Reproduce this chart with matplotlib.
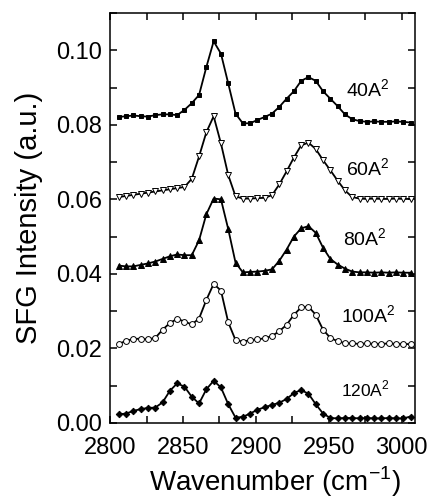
import matplotlib
matplotlib.use("Agg")
import matplotlib.pyplot as plt
from matplotlib.ticker import MultipleLocator

plt.rcParams['font.family'] = ['Liberation Sans', 'DejaVu Sans']
plt.rcParams['mathtext.fontset'] = 'custom'
plt.rcParams['mathtext.rm'] = 'Liberation Sans'

wavenumber = [2806, 2811, 2816, 2821, 2826, 2831, 2836, 2841, 2846, 2851,
              2856, 2861, 2866, 2871, 2876, 2881, 2886, 2891, 2896, 2901,
              2906, 2911, 2916, 2921, 2926, 2931, 2936, 2941, 2946, 2951,
              2956, 2961, 2966, 2971, 2976, 2981, 2986, 2991, 2996, 3001, 3006]

sfg_40 = [0.0821, 0.0823, 0.0825, 0.0823, 0.0822, 0.0826, 0.0828, 0.0828, 0.0826, 0.0840,
          0.0858, 0.0880, 0.0955, 0.1024, 0.0991, 0.0911, 0.0830, 0.0804, 0.0804, 0.0813,
          0.0821, 0.0830, 0.0848, 0.0870, 0.0890, 0.0918, 0.0928, 0.0918, 0.0890, 0.0870,
          0.0850, 0.0828, 0.0815, 0.0810, 0.0808, 0.0809, 0.0808, 0.0808, 0.0809, 0.0808, 0.0806]

sfg_60 = [0.0606, 0.0609, 0.0612, 0.0615, 0.0618, 0.0621, 0.0624, 0.0627, 0.0630, 0.0633,
          0.0655, 0.0715, 0.0780, 0.0823, 0.0750, 0.0665, 0.0608, 0.0602, 0.0602, 0.0603,
          0.0604, 0.0611, 0.0640, 0.0675, 0.0712, 0.0745, 0.0752, 0.0735, 0.0705, 0.0678,
          0.0650, 0.0624, 0.0606, 0.0602, 0.0601, 0.0602, 0.0601, 0.0601, 0.0602, 0.0601, 0.0601]

sfg_80 = [0.0422, 0.0420, 0.0420, 0.0424, 0.0428, 0.0433, 0.0440, 0.0447, 0.0452, 0.0450,
          0.0450, 0.0490, 0.0560, 0.0602, 0.0600, 0.0520, 0.0430, 0.0404, 0.0405, 0.0406,
          0.0408, 0.0412, 0.0435, 0.0465, 0.0500, 0.0522, 0.0528, 0.0510, 0.0470, 0.0440,
          0.0425, 0.0414, 0.0406, 0.0404, 0.0404, 0.0403, 0.0404, 0.0403, 0.0404, 0.0403, 0.0403]

sfg_100 = [0.0212, 0.0220, 0.0225, 0.0226, 0.0224, 0.0228, 0.0250, 0.0268, 0.0279, 0.0272,
           0.0264, 0.0280, 0.0330, 0.0373, 0.0355, 0.0270, 0.0222, 0.0218, 0.0222, 0.0224,
           0.0227, 0.0233, 0.0246, 0.0263, 0.0290, 0.0310, 0.0312, 0.0290, 0.0250, 0.0228,
           0.0219, 0.0214, 0.0213, 0.0212, 0.0213, 0.0212, 0.0212, 0.0213, 0.0212, 0.0212, 0.0211]

sfg_120 = [0.0023, 0.0025, 0.0032, 0.0037, 0.0040, 0.0041, 0.0055, 0.0086, 0.0106, 0.0097,
           0.0070, 0.0052, 0.0090, 0.0113, 0.0095, 0.0050, 0.0014, 0.0016, 0.0025, 0.0035,
           0.0042, 0.0048, 0.0054, 0.0064, 0.0080, 0.0088, 0.0078, 0.0050, 0.0025, 0.0013,
           0.0012, 0.0013, 0.0013, 0.0012, 0.0013, 0.0012, 0.0012, 0.0013, 0.0012, 0.0012, 0.0017]

labels = ['40A$^2$', '60A$^2$', '80A$^2$', '100A$^2$', '120A$^2$']

fig = plt.figure(figsize=(4.30, 5.01), dpi=100)
ax = fig.add_axes([0.256, 0.156, 0.709, 0.818])

series = [sfg_40, sfg_60, sfg_80, sfg_100, sfg_120]
styles = [dict(marker='s', mfc='black', ms=3.3),
          dict(marker='v', mfc='white', ms=4.5),
          dict(marker='^', mfc='black', ms=4.5),
          dict(marker='o', mfc='white', ms=4.2),
          dict(marker='D', mfc='black', ms=3.3)]
for ys, st in zip(series, styles):
    ax.plot(wavenumber, ys, color='black', lw=1.3, mec='black', mew=0.7, **st)

label_pos = [(2962, 0.0893, 14), (2962, 0.0683, 14), (2960, 0.0495, 14),
             (2958.5, 0.0288, 14), (2958, 0.0091, 12.5)]
for lab, (x, y, fs) in zip(labels, label_pos):
    ax.text(x, y, lab, fontsize=fs, ha='left', va='center')

ax.set_xlim(2800, 3009)
ax.set_ylim(0, 0.110)
ax.xaxis.set_major_locator(MultipleLocator(50))
ax.xaxis.set_minor_locator(MultipleLocator(25))
ax.yaxis.set_major_locator(MultipleLocator(0.02))
ax.yaxis.set_minor_locator(MultipleLocator(0.01))
ax.yaxis.set_major_formatter(plt.FormatStrFormatter('%.2f'))
ax.tick_params(which='both', direction='in', top=True, right=True, width=1.1)
ax.tick_params(which='major', length=5, labelsize=17)
ax.tick_params(which='minor', length=5)
ax.tick_params(axis='x', which='major', pad=10)
ax.tick_params(axis='y', which='major', pad=6)
for sp in ax.spines.values():
    sp.set_linewidth(1.1)

ax.set_xlabel('Wavenumber (cm$^{-1}$)', fontsize=20, labelpad=4, x=0.54)
ax.set_ylabel('SFG Intensity (a.u.)', fontsize=21, labelpad=9)

fig.savefig('out.png', dpi=100)
